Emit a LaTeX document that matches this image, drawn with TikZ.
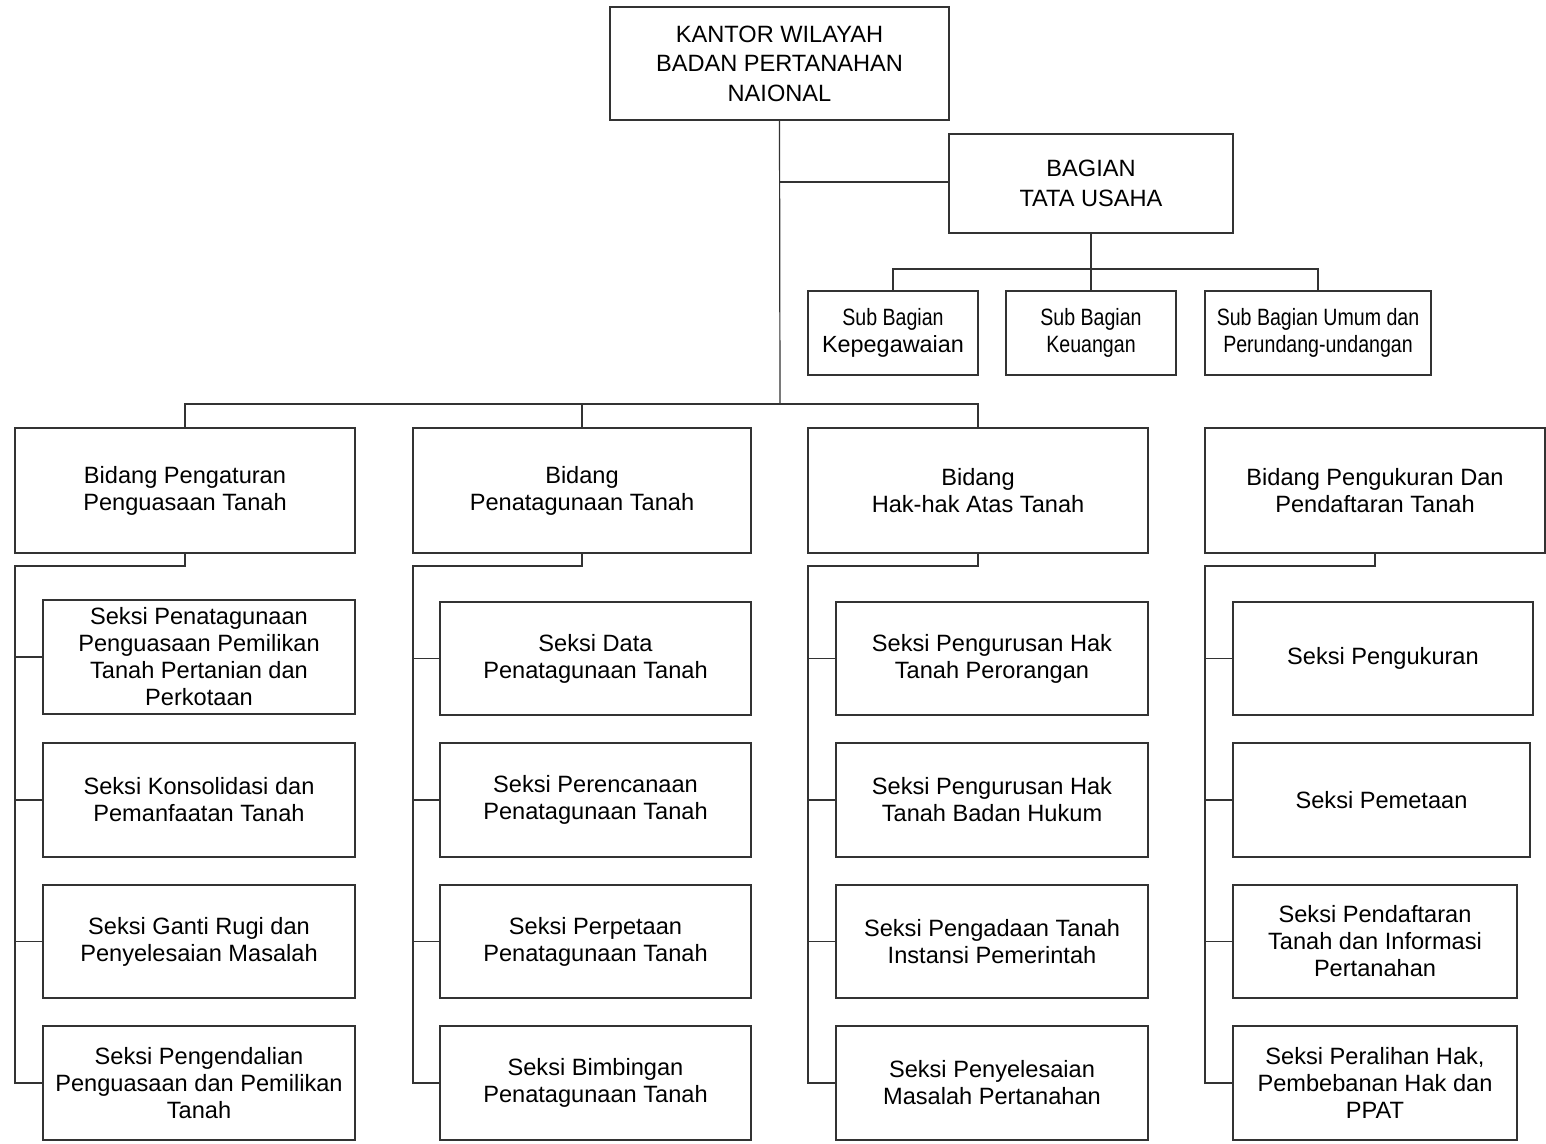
\documentclass[tikz,border=0pt]{standalone}
\usepackage{fontspec}
\setmainfont{Liberation Sans}
\newfontfamily\narrowfont[FakeStretch=0.83]{Liberation Sans}
\begin{document}
\begin{tikzpicture}[x=1pt,y=-1pt,
  line width=1.2pt, draw=black!80,
  box/.style={draw=black!80, line width=1.2pt, align=center, inner sep=2pt,
    font=\fontsize{23.6}{27}\selectfont, anchor=center},
  bigbox/.style={box, font=\fontsize{23.6}{29.5}\selectfont},
  subbox/.style={box, font=\narrowfont\fontsize{23.6}{27}\selectfont},
  conn/.style={draw=black!80, line width=1.2pt}]
\useasboundingbox (0,0) rectangle (1546,1143);
% top levels
\node[bigbox, minimum width=339pt, minimum height=113pt] (top) at (779.5,63.5) {KANTOR WILAYAH\\BADAN PERTANAHAN\\NAIONAL};
\node[bigbox, minimum width=284pt, minimum height=99pt] (tu) at (1091,183.5) {BAGIAN\\TATA USAHA};
\node[subbox, minimum width=170pt, minimum height=84pt] (sb1) at (893,333) {Sub Bagian\\{\normalfont\fontsize{23.4}{27}\selectfont Kepegawaian}};
\node[subbox, minimum width=170pt, minimum height=84pt] (sb2) at (1091,333) {Sub Bagian\\Keuangan};
\node[subbox, minimum width=226pt, minimum height=84pt] (sb3) at (1318,333) {Sub Bagian Umum dan\\Perundang-undangan};
% bidang
\node[box, minimum width=340pt, minimum height=125pt] (b1) at (185,490.5) {Bidang Pengaturan\\Penguasaan Tanah};
\node[box, minimum width=338pt, minimum height=125pt] (b2) at (582,490.5) {Bidang\\Penatagunaan Tanah};
\node[box, minimum width=340pt, minimum height=125pt] (b3) at (978,490.5) {Bidang\\Hak-hak Atas Tanah};
\node[box, minimum width=340pt, minimum height=125pt] (b4) at (1375,490.5) {Bidang Pengukuran Dan\\Pendaftaran Tanah};
% column 1
\node[box, minimum width=312pt, minimum height=114pt] (s11) at (199,657) {Seksi Penatagunaan\\Penguasaan Pemilikan\\Tanah Pertanian dan\\Perkotaan};
\node[box, minimum width=312pt, minimum height=114pt] (s12) at (199,800) {Seksi Konsolidasi dan\\Pemanfaatan Tanah};
\node[box, minimum width=312pt, minimum height=113pt] (s13) at (199,941.5) {Seksi Ganti Rugi dan\\Penyelesaian Masalah};
\node[box, minimum width=312pt, minimum height=114pt] (s14) at (199,1083) {Seksi Pengendalian\\Penguasaan dan Pemilikan\\Tanah};
% column 2
\node[box, minimum width=311pt, minimum height=113pt] (s21) at (595.5,658.5) {Seksi Data\\Penatagunaan Tanah};
\node[box, minimum width=311pt, minimum height=114pt] (s22) at (595.5,800) {Seksi Perencanaan\\Penatagunaan Tanah};
\node[box, minimum width=311pt, minimum height=113pt] (s23) at (595.5,941.5) {Seksi Perpetaan\\Penatagunaan Tanah};
\node[box, minimum width=311pt, minimum height=114pt] (s24) at (595.5,1083) {Seksi Bimbingan\\Penatagunaan Tanah};
% column 3
\node[box, minimum width=312pt, minimum height=113pt] (s31) at (992,658.5) {Seksi Pengurusan Hak\\Tanah Perorangan};
\node[box, minimum width=312pt, minimum height=114pt] (s32) at (992,800) {Seksi Pengurusan Hak\\Tanah Badan Hukum};
\node[box, minimum width=312pt, minimum height=113pt] (s33) at (992,941.5) {Seksi Pengadaan Tanah\\Instansi Pemerintah};
\node[box, minimum width=312pt, minimum height=114pt] (s34) at (992,1083) {Seksi Penyelesaian\\Masalah Pertanahan};
% column 4
\node[box, minimum width=300pt, minimum height=113pt] (s41) at (1383,658.5) {Seksi Pengukuran};
\node[box, minimum width=297pt, minimum height=114pt] (s42) at (1381.5,800) {Seksi Pemetaan};
\node[box, minimum width=284pt, minimum height=113pt] (s43) at (1375,941.5) {Seksi Pendaftaran\\Tanah dan Informasi\\Pertanahan};
\node[box, minimum width=284pt, minimum height=114pt] (s44) at (1375,1083) {Seksi Peralihan Hak,\\Pembebanan Hak dan\\PPAT};
% junctions
\coordinate (j) at (780,404);
\coordinate (jtu) at (780,182);
\coordinate (tuj) at (1091,269);
\coordinate (c1) at (15,566);
\coordinate (c2) at (413,566);
\coordinate (c3) at (808,566);
\coordinate (c4) at (1205,566);
% connectors
\draw[conn] (top.south) -- (j);
\draw[conn] (jtu) -- (tu.west |- jtu);
\draw[conn] (tu.south) -- (tuj);
\draw[conn] (sb1.north) |- (tuj) -| (sb3.north);
\draw[conn] (tuj) -- (sb2.north);
\draw[conn] (b1.north) |- (j) -| (b3.north);
\draw[conn] (b2.north) -- (b2.north |- j);
\foreach \c/\k in {1/c1,2/c2,3/c3,4/c4}{
  \draw[conn] (b\c.south) |- (\k) |- (s\c4.west);
  \draw[conn] (\k |- s\c1.west) -- (s\c1.west);
  \draw[conn] (\k |- s\c2.west) -- (s\c2.west);
  \draw[conn] (\k |- s\c3.west) -- (s\c3.west);
}
\end{tikzpicture}
\end{document}
